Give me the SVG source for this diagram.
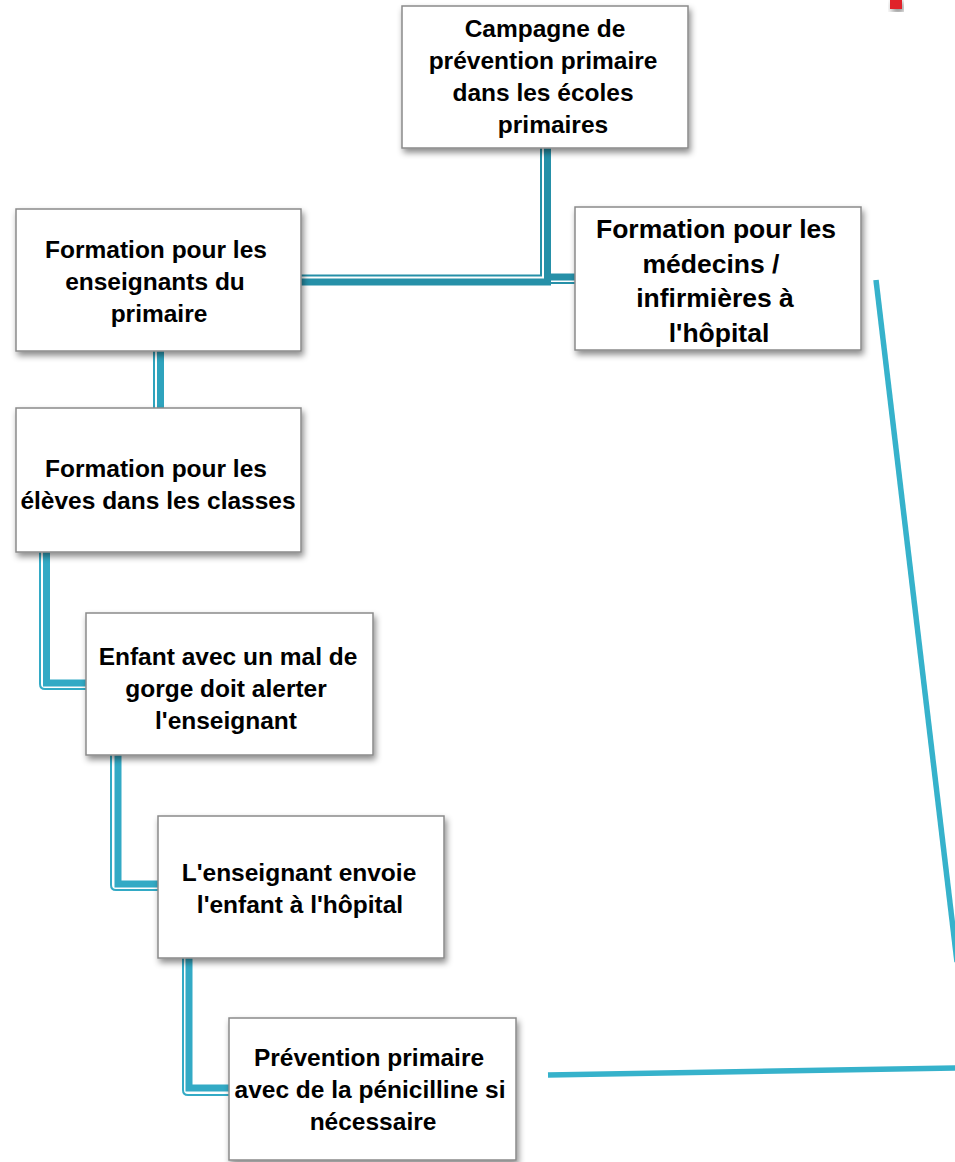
<svg xmlns="http://www.w3.org/2000/svg" width="955" height="1162" viewBox="0 0 955 1162">
<defs>
<filter id="sh" x="-10%" y="-10%" width="125%" height="130%">
<feDropShadow dx="2" dy="4" stdDeviation="3" flood-color="#000" flood-opacity="0.45"/>
</filter>
<style>
.box{fill:#fff;stroke:#8a8a8a;stroke-width:1.5;filter:url(#sh)}
.t{font-family:"Liberation Sans",Arial,sans-serif;font-weight:bold;font-size:24.5px;fill:#000;text-anchor:middle}
.tb{font-size:26.5px}
.thin{fill:none;stroke-width:2}
.thick{fill:none;stroke-width:7}
.c1{stroke:#2690a8}
.c2{stroke:#2ea3bd}
.c3{stroke:#33aac5}
.long{fill:none;stroke:#36b2cb;stroke-width:5.5}
</style>
</defs>
<rect width="955" height="1162" fill="#fff"/>
<rect x="890" y="-2" width="12" height="11" fill="#e0202a" filter="url(#sh)"/>
<g id="connectors">
<path class="thin c1" d="M541 148 V275.5 H300"/>
<path class="thick c1" d="M547.5 148 V282 H300"/>
<path class="thick c1" d="M547.5 277 H575" stroke-width="6"/>
<path class="thin c1" d="M551 283 H575"/>
<path class="thin c2" d="M154 351 V408"/>
<path class="thick c2" d="M160.5 351 V408"/>
<path class="thin c3" d="M40 552 V684 Q40 689 45 689 H86"/>
<path class="thick c3" d="M46.5 552 V683 H86"/>
<path class="thin c3" d="M111 755 V885 Q111 890 116 890 H158"/>
<path class="thick c3" d="M118 755 V884 H158"/>
<path class="thin c3" d="M183 958 V1090 Q183 1095 188 1095 H229"/>
<path class="thick c3" d="M189 958 V1088 H229"/>
<path class="long" d="M876 280 L957 962"/>
<path class="long" d="M548 1075 L957 1068" stroke-width="6"/>
</g>
<g id="n1">
<rect class="box" x="402" y="6" width="286" height="142"/>
<text class="t" x="545" y="37">Campagne de</text>
<text class="t" x="543" y="69">prévention primaire</text>
<text class="t" x="543" y="101">dans les écoles</text>
<text class="t" x="553" y="133">primaires</text>
</g>
<g id="n2">
<rect class="box" x="16" y="209" width="285" height="142"/>
<text class="t" x="156" y="258">Formation pour les</text>
<text class="t" x="155" y="290">enseignants du</text>
<text class="t" x="159" y="322">primaire</text>
</g>
<g id="n3">
<rect class="box" x="575" y="207" width="286" height="143"/>
<text class="t tb" x="716" y="238">Formation pour les</text>
<text class="t tb" x="711" y="273">médecins /</text>
<text class="t tb" x="715" y="307">infirmières à</text>
<text class="t tb" x="719" y="342">l'hôpital</text>
</g>
<g id="n4">
<rect class="box" x="16" y="408" width="285" height="144"/>
<text class="t" x="156" y="477">Formation pour les</text>
<text class="t" x="158" y="509">élèves dans les classes</text>
</g>
<g id="n5">
<rect class="box" x="86" y="613" width="287" height="142"/>
<text class="t" x="228" y="665">Enfant avec un mal de</text>
<text class="t" x="226" y="697">gorge doit alerter</text>
<text class="t" x="226" y="729">l'enseignant</text>
</g>
<g id="n6">
<rect class="box" x="158" y="816" width="286" height="142"/>
<text class="t" x="299" y="881">L'enseignant envoie</text>
<text class="t" x="300" y="913">l'enfant à l'hôpital</text>
</g>
<g id="n7">
<rect class="box" x="229" y="1018" width="287" height="142"/>
<text class="t" x="369" y="1066">Prévention primaire</text>
<text class="t" x="370" y="1098">avec de la pénicilline si</text>
<text class="t" x="373" y="1130">nécessaire</text>
</g>
</svg>
